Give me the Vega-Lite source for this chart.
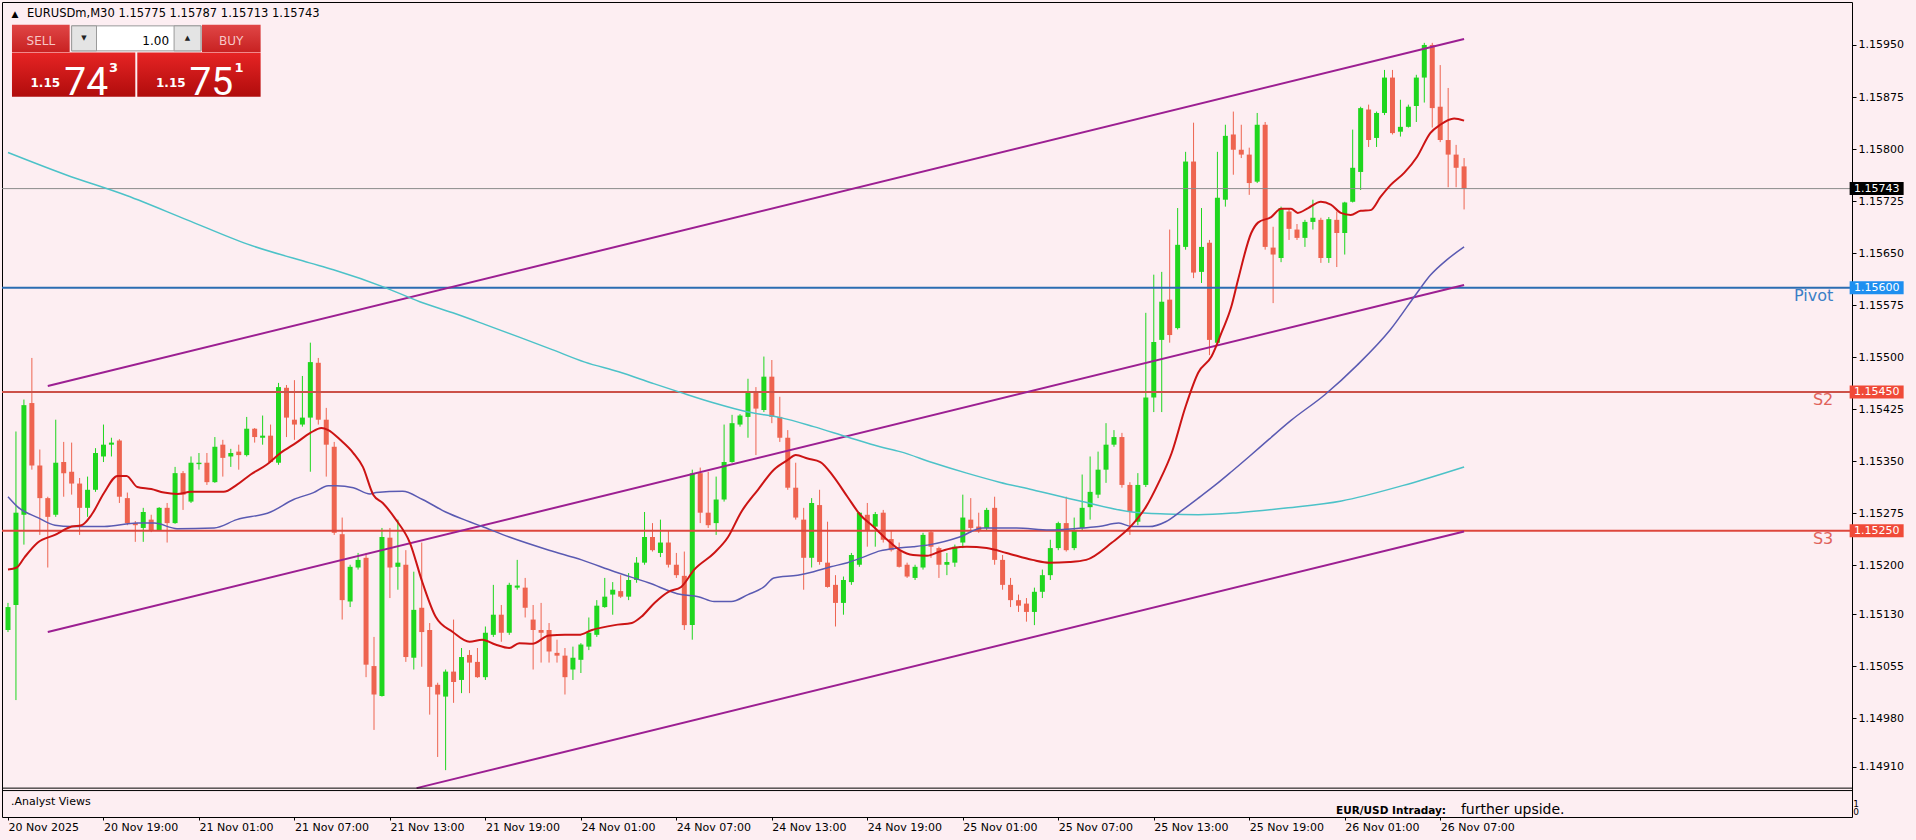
{
"$schema":"https://vega.github.io/schema/vega-lite/v6.json",
"width":1850,"height":815,
"autosize":{"type":"none"},
"padding":{"left":2,"top":2,"right":64,"bottom":23},
"background":"#fdeef2",
"config":{"view":{"stroke":"#000000","strokeWidth":1,"fill":"#fdeef2"},"axis":{"labelFont":"DejaVu Sans","labelFontSize":11,"labelColor":"#000000","tickColor":"#000000","domain":false,"grid":false},"text":{"font":"DejaVu Sans"}},
"resolve":{"scale":{"color":"independent"}},
"datasets":{
"candles":[
{"k":0,"o":1.15107,"h":1.15146,"l":1.15104,"c":1.1514},
{"k":1,"o":1.15143,"h":1.15393,"l":1.15006,"c":1.15276},
{"k":2,"o":1.15273,"h":1.15439,"l":1.1523,"c":1.15431},
{"k":3,"o":1.15434,"h":1.15499,"l":1.15338,"c":1.15344},
{"k":4,"o":1.15344,"h":1.15367,"l":1.15244,"c":1.15297},
{"k":5,"o":1.15297,"h":1.15299,"l":1.15197,"c":1.1527},
{"k":6,"o":1.15273,"h":1.1541,"l":1.1527,"c":1.15348},
{"k":7,"o":1.15349,"h":1.15378,"l":1.15299,"c":1.15333},
{"k":8,"o":1.15335,"h":1.15377,"l":1.15302,"c":1.15318},
{"k":9,"o":1.15318,"h":1.15326,"l":1.15244,"c":1.15283},
{"k":10,"o":1.15283,"h":1.15328,"l":1.1527,"c":1.15309},
{"k":11,"o":1.15309,"h":1.15369,"l":1.15306,"c":1.15362},
{"k":12,"o":1.15357,"h":1.15403,"l":1.15349,"c":1.15374},
{"k":13,"o":1.15374,"h":1.15384,"l":1.15357,"c":1.15377},
{"k":14,"o":1.1538,"h":1.15382,"l":1.1529,"c":1.15299},
{"k":15,"o":1.15297,"h":1.15305,"l":1.15258,"c":1.15261},
{"k":16,"o":1.15261,"h":1.15264,"l":1.15234,"c":1.15258},
{"k":17,"o":1.15254,"h":1.15283,"l":1.15234,"c":1.15277},
{"k":18,"o":1.15266,"h":1.15273,"l":1.15248,"c":1.15251},
{"k":19,"o":1.15251,"h":1.15284,"l":1.1525,"c":1.15283},
{"k":20,"o":1.15283,"h":1.1529,"l":1.15233,"c":1.15261},
{"k":21,"o":1.15261,"h":1.15342,"l":1.1526,"c":1.15333},
{"k":22,"o":1.15333,"h":1.15336,"l":1.1528,"c":1.15302},
{"k":23,"o":1.15292,"h":1.15357,"l":1.1529,"c":1.15348},
{"k":24,"o":1.15346,"h":1.15362,"l":1.15338,"c":1.15348},
{"k":25,"o":1.15348,"h":1.15362,"l":1.15316,"c":1.1532},
{"k":26,"o":1.1532,"h":1.15385,"l":1.15319,"c":1.15371},
{"k":27,"o":1.15374,"h":1.15381,"l":1.15328,"c":1.15355},
{"k":28,"o":1.15357,"h":1.15368,"l":1.15342,"c":1.15362},
{"k":29,"o":1.15364,"h":1.15374,"l":1.15338,"c":1.15359},
{"k":30,"o":1.15359,"h":1.15414,"l":1.15357,"c":1.15397},
{"k":31,"o":1.15397,"h":1.15398,"l":1.15377,"c":1.15385},
{"k":32,"o":1.15384,"h":1.15416,"l":1.15374,"c":1.15387},
{"k":33,"o":1.15387,"h":1.15403,"l":1.15348,"c":1.15349},
{"k":34,"o":1.15348,"h":1.15463,"l":1.15345,"c":1.15457},
{"k":35,"o":1.15456,"h":1.1546,"l":1.15385,"c":1.15413},
{"k":36,"o":1.1541,"h":1.15467,"l":1.15381,"c":1.15403},
{"k":37,"o":1.15403,"h":1.15473,"l":1.154,"c":1.15413},
{"k":38,"o":1.15413,"h":1.15521,"l":1.15335,"c":1.15493},
{"k":39,"o":1.15492,"h":1.15499,"l":1.15403,"c":1.1541},
{"k":40,"o":1.1541,"h":1.15427,"l":1.15328,"c":1.15374},
{"k":41,"o":1.15371,"h":1.15378,"l":1.15244,"c":1.15247},
{"k":42,"o":1.15245,"h":1.15269,"l":1.15122,"c":1.1515},
{"k":43,"o":1.15148,"h":1.15201,"l":1.1514,"c":1.15198},
{"k":44,"o":1.15197,"h":1.15218,"l":1.15194,"c":1.15208},
{"k":45,"o":1.15211,"h":1.15218,"l":1.15039,"c":1.15057},
{"k":46,"o":1.15055,"h":1.15097,"l":1.14963,"c":1.15014},
{"k":47,"o":1.15012,"h":1.15254,"l":1.15011,"c":1.15241},
{"k":48,"o":1.1524,"h":1.15254,"l":1.15153,"c":1.15197},
{"k":49,"o":1.15198,"h":1.15266,"l":1.15165,"c":1.15204},
{"k":50,"o":1.15201,"h":1.15222,"l":1.15061,"c":1.15068},
{"k":51,"o":1.15067,"h":1.15191,"l":1.1505,"c":1.15136},
{"k":52,"o":1.15139,"h":1.15233,"l":1.15054,"c":1.15104},
{"k":53,"o":1.15107,"h":1.15117,"l":1.14985,"c":1.15025},
{"k":54,"o":1.15028,"h":1.15031,"l":1.14924,"c":1.15014},
{"k":55,"o":1.15011,"h":1.1505,"l":1.14905,"c":1.15047},
{"k":56,"o":1.15047,"h":1.15122,"l":1.15002,"c":1.15032},
{"k":57,"o":1.15035,"h":1.15081,"l":1.15016,"c":1.15068},
{"k":58,"o":1.15071,"h":1.15078,"l":1.15016,"c":1.1506},
{"k":59,"o":1.15061,"h":1.15081,"l":1.15038,"c":1.15039},
{"k":60,"o":1.15039,"h":1.15112,"l":1.15035,"c":1.15103},
{"k":61,"o":1.151,"h":1.15172,"l":1.15097,"c":1.15129},
{"k":62,"o":1.15129,"h":1.15143,"l":1.1509,"c":1.15103},
{"k":63,"o":1.15103,"h":1.15175,"l":1.151,"c":1.15172},
{"k":64,"o":1.15168,"h":1.15208,"l":1.15165,"c":1.15171},
{"k":65,"o":1.15168,"h":1.15182,"l":1.15125,"c":1.15139},
{"k":66,"o":1.15122,"h":1.15143,"l":1.1505,"c":1.15107},
{"k":67,"o":1.15107,"h":1.15146,"l":1.1506,"c":1.15103},
{"k":68,"o":1.15107,"h":1.15117,"l":1.1506,"c":1.15076},
{"k":69,"o":1.15074,"h":1.15093,"l":1.1506,"c":1.1507},
{"k":70,"o":1.1507,"h":1.15081,"l":1.15014,"c":1.15039},
{"k":71,"o":1.1505,"h":1.15083,"l":1.15035,"c":1.15067},
{"k":72,"o":1.15064,"h":1.15088,"l":1.15045,"c":1.15086},
{"k":73,"o":1.15083,"h":1.15125,"l":1.15078,"c":1.15103},
{"k":74,"o":1.151,"h":1.1515,"l":1.15097,"c":1.15142},
{"k":75,"o":1.1514,"h":1.15182,"l":1.15139,"c":1.15155},
{"k":76,"o":1.15158,"h":1.15176,"l":1.15129,"c":1.15165},
{"k":77,"o":1.15163,"h":1.15186,"l":1.15153,"c":1.15155},
{"k":78,"o":1.15155,"h":1.15189,"l":1.1515,"c":1.15179},
{"k":79,"o":1.15179,"h":1.15212,"l":1.15175,"c":1.15204},
{"k":80,"o":1.15204,"h":1.15277,"l":1.15201,"c":1.15241},
{"k":81,"o":1.15241,"h":1.15261,"l":1.1522,"c":1.15222},
{"k":82,"o":1.15218,"h":1.15266,"l":1.15212,"c":1.15233},
{"k":83,"o":1.15233,"h":1.15251,"l":1.15197,"c":1.15201},
{"k":84,"o":1.15201,"h":1.15218,"l":1.15182,"c":1.15186},
{"k":85,"o":1.15185,"h":1.1522,"l":1.15107,"c":1.15114},
{"k":86,"o":1.15114,"h":1.15338,"l":1.15093,"c":1.15333},
{"k":87,"o":1.15333,"h":1.15341,"l":1.15261,"c":1.15276},
{"k":88,"o":1.15276,"h":1.15335,"l":1.15254,"c":1.15258},
{"k":89,"o":1.15261,"h":1.15328,"l":1.15244,"c":1.15295},
{"k":90,"o":1.15295,"h":1.15403,"l":1.15292,"c":1.15349},
{"k":91,"o":1.15349,"h":1.15417,"l":1.15348,"c":1.15405},
{"k":92,"o":1.15403,"h":1.15418,"l":1.154,"c":1.15416},
{"k":93,"o":1.15414,"h":1.15469,"l":1.15384,"c":1.1545},
{"k":94,"o":1.1545,"h":1.15457,"l":1.15359,"c":1.15426},
{"k":95,"o":1.15424,"h":1.15501,"l":1.15421,"c":1.15472},
{"k":96,"o":1.15472,"h":1.15496,"l":1.15405,"c":1.15414},
{"k":97,"o":1.15414,"h":1.15443,"l":1.15378,"c":1.15384},
{"k":98,"o":1.15384,"h":1.15395,"l":1.15309,"c":1.15312},
{"k":99,"o":1.15312,"h":1.15348,"l":1.15266,"c":1.15269},
{"k":100,"o":1.15266,"h":1.15283,"l":1.15165,"c":1.15211},
{"k":101,"o":1.15211,"h":1.15297,"l":1.15197,"c":1.1529},
{"k":102,"o":1.15287,"h":1.15309,"l":1.15201,"c":1.15205},
{"k":103,"o":1.15204,"h":1.15263,"l":1.15168,"c":1.15169},
{"k":104,"o":1.15172,"h":1.15186,"l":1.15112,"c":1.15146},
{"k":105,"o":1.15146,"h":1.15184,"l":1.15129,"c":1.15179},
{"k":106,"o":1.15176,"h":1.15218,"l":1.15172,"c":1.15215},
{"k":107,"o":1.15201,"h":1.15277,"l":1.15198,"c":1.15276},
{"k":108,"o":1.15273,"h":1.1529,"l":1.15227,"c":1.15251},
{"k":109,"o":1.15256,"h":1.15277,"l":1.15227,"c":1.15274},
{"k":110,"o":1.15276,"h":1.1528,"l":1.15233,"c":1.15237},
{"k":111,"o":1.15238,"h":1.15251,"l":1.1522,"c":1.15222},
{"k":112,"o":1.15222,"h":1.15233,"l":1.15197,"c":1.15198},
{"k":113,"o":1.15201,"h":1.15204,"l":1.15182,"c":1.15184},
{"k":114,"o":1.15182,"h":1.15201,"l":1.15179,"c":1.15198},
{"k":115,"o":1.15197,"h":1.15247,"l":1.15194,"c":1.15244},
{"k":116,"o":1.15248,"h":1.15251,"l":1.15211,"c":1.15227},
{"k":117,"o":1.15225,"h":1.15227,"l":1.15182,"c":1.15201},
{"k":118,"o":1.15201,"h":1.15218,"l":1.15186,"c":1.15205},
{"k":119,"o":1.15204,"h":1.1523,"l":1.15198,"c":1.15227},
{"k":120,"o":1.15233,"h":1.15302,"l":1.15225,"c":1.15269},
{"k":121,"o":1.15266,"h":1.15297,"l":1.15247,"c":1.15254},
{"k":122,"o":1.15256,"h":1.15276,"l":1.15247,"c":1.15251},
{"k":123,"o":1.15254,"h":1.15283,"l":1.15251,"c":1.1528},
{"k":124,"o":1.15283,"h":1.15299,"l":1.15201,"c":1.15208},
{"k":125,"o":1.15208,"h":1.15215,"l":1.15165,"c":1.15172},
{"k":126,"o":1.15172,"h":1.15182,"l":1.1514,"c":1.1515},
{"k":127,"o":1.1515,"h":1.15158,"l":1.15133,"c":1.15142},
{"k":128,"o":1.15145,"h":1.15153,"l":1.15119,"c":1.15133},
{"k":129,"o":1.15133,"h":1.15168,"l":1.15114,"c":1.15162},
{"k":130,"o":1.15162,"h":1.15194,"l":1.15153,"c":1.15186},
{"k":131,"o":1.15186,"h":1.15237,"l":1.15179,"c":1.15225},
{"k":132,"o":1.15225,"h":1.15263,"l":1.15222,"c":1.15261},
{"k":133,"o":1.15261,"h":1.15299,"l":1.1522,"c":1.15222},
{"k":134,"o":1.15225,"h":1.15269,"l":1.15222,"c":1.15251},
{"k":135,"o":1.15254,"h":1.15331,"l":1.15251,"c":1.15283},
{"k":136,"o":1.15284,"h":1.15357,"l":1.15266,"c":1.15306},
{"k":137,"o":1.15302,"h":1.15364,"l":1.15297,"c":1.15338},
{"k":138,"o":1.15338,"h":1.15405,"l":1.15319,"c":1.15374},
{"k":139,"o":1.15374,"h":1.15395,"l":1.15371,"c":1.15385},
{"k":140,"o":1.15385,"h":1.15391,"l":1.15312,"c":1.15316},
{"k":141,"o":1.15316,"h":1.1532,"l":1.15244,"c":1.15277},
{"k":142,"o":1.15263,"h":1.15333,"l":1.15258,"c":1.15316},
{"k":143,"o":1.15316,"h":1.15564,"l":1.15313,"c":1.15442},
{"k":144,"o":1.15442,"h":1.15619,"l":1.15421,"c":1.15522},
{"k":145,"o":1.15525,"h":1.15623,"l":1.15421,"c":1.1558},
{"k":146,"o":1.15583,"h":1.15684,"l":1.15521,"c":1.15532},
{"k":147,"o":1.15542,"h":1.15715,"l":1.1554,"c":1.15662},
{"k":148,"o":1.15659,"h":1.15796,"l":1.15655,"c":1.15782},
{"k":149,"o":1.15782,"h":1.15838,"l":1.15614,"c":1.15622},
{"k":150,"o":1.15623,"h":1.15715,"l":1.15607,"c":1.15659},
{"k":151,"o":1.15665,"h":1.15669,"l":1.15503,"c":1.15525},
{"k":152,"o":1.15521,"h":1.15796,"l":1.15518,"c":1.1573},
{"k":153,"o":1.15727,"h":1.15835,"l":1.15717,"c":1.15819},
{"k":154,"o":1.15821,"h":1.15854,"l":1.15763,"c":1.15799},
{"k":155,"o":1.15799,"h":1.15835,"l":1.15787,"c":1.15792},
{"k":156,"o":1.15792,"h":1.15802,"l":1.15734,"c":1.15751},
{"k":157,"o":1.15753,"h":1.15852,"l":1.15751,"c":1.15835},
{"k":158,"o":1.15835,"h":1.15839,"l":1.15655,"c":1.15659},
{"k":159,"o":1.15658,"h":1.15688,"l":1.15578,"c":1.15648},
{"k":160,"o":1.15643,"h":1.15717,"l":1.15637,"c":1.15715},
{"k":161,"o":1.1571,"h":1.15715,"l":1.15669,"c":1.15685},
{"k":162,"o":1.15684,"h":1.15692,"l":1.15669,"c":1.15672},
{"k":163,"o":1.15672,"h":1.15698,"l":1.15659,"c":1.15695},
{"k":164,"o":1.15695,"h":1.15727,"l":1.15684,"c":1.15701},
{"k":165,"o":1.15698,"h":1.15701,"l":1.15636,"c":1.15643},
{"k":166,"o":1.15643,"h":1.15702,"l":1.15636,"c":1.15699},
{"k":167,"o":1.15698,"h":1.1571,"l":1.1563,"c":1.15679},
{"k":168,"o":1.15679,"h":1.15724,"l":1.15648,"c":1.15723},
{"k":169,"o":1.15724,"h":1.15828,"l":1.15723,"c":1.15773},
{"k":170,"o":1.15767,"h":1.15861,"l":1.15741,"c":1.15859},
{"k":171,"o":1.15857,"h":1.15864,"l":1.15803,"c":1.15813},
{"k":172,"o":1.15816,"h":1.15854,"l":1.15803,"c":1.15852},
{"k":173,"o":1.15852,"h":1.15914,"l":1.15849,"c":1.15903},
{"k":174,"o":1.15903,"h":1.15914,"l":1.15821,"c":1.15823},
{"k":175,"o":1.15825,"h":1.15871,"l":1.15818,"c":1.15832},
{"k":176,"o":1.15832,"h":1.15864,"l":1.15831,"c":1.15861},
{"k":177,"o":1.15862,"h":1.15907,"l":1.15839,"c":1.15903},
{"k":178,"o":1.15903,"h":1.15953,"l":1.15867,"c":1.1595},
{"k":179,"o":1.1595,"h":1.15953,"l":1.15831,"c":1.15859},
{"k":180,"o":1.15861,"h":1.15921,"l":1.1581,"c":1.15813},
{"k":181,"o":1.15813,"h":1.15888,"l":1.15745,"c":1.15792},
{"k":182,"o":1.15792,"h":1.15806,"l":1.15745,"c":1.15773},
{"k":183,"o":1.15775,"h":1.15787,"l":1.15713,"c":1.15743}
],
"fast":[
{"k":0,"v":1.15194},{"k":1.1,"v":1.15197},{"k":2.1,"v":1.15212},{"k":3.75,"v":1.15233},{"k":5.9,"v":1.15244},{"k":8,"v":1.15256},{"k":9.25,"v":1.15258},{"k":10.5,"v":1.15273},{"k":12.1,"v":1.15305},{"k":13.75,"v":1.15329},{"k":14.9,"v":1.15329},{"k":16.25,"v":1.15313},{"k":18,"v":1.1531},{"k":19.6,"v":1.15305},{"k":21.25,"v":1.15303},{"k":23,"v":1.15306},{"k":25.5,"v":1.15306},{"k":27.1,"v":1.15306},{"k":28.75,"v":1.15316},{"k":30.5,"v":1.15331},{"k":32.5,"v":1.15345},{"k":34.25,"v":1.15362},{"k":36.25,"v":1.15377},{"k":38,"v":1.15391},{"k":39.4,"v":1.15398},{"k":40.25,"v":1.15395},{"k":41.75,"v":1.15381},{"k":43.4,"v":1.15362},{"k":44.6,"v":1.15342},{"k":45.9,"v":1.15302},{"k":47.1,"v":1.1529},{"k":48.75,"v":1.15266},{"k":50.5,"v":1.15233},{"k":52.1,"v":1.15175},{"k":53.75,"v":1.15126},{"k":55.9,"v":1.15104},{"k":58,"v":1.1509},{"k":59.6,"v":1.15093},{"k":61.25,"v":1.15086},{"k":63,"v":1.15081},{"k":64.25,"v":1.15088},{"k":65.9,"v":1.15087},{"k":68,"v":1.15099},{"k":70,"v":1.151},{"k":71.75,"v":1.151},{"k":73.4,"v":1.15107},{"k":76.25,"v":1.15114},{"k":78.4,"v":1.15117},{"k":79.6,"v":1.15126},{"k":81.25,"v":1.15146},{"k":83,"v":1.15162},{"k":84.6,"v":1.15169},{"k":86.25,"v":1.15194},{"k":88.75,"v":1.15218},{"k":90.5,"v":1.15241},{"k":92.1,"v":1.15276},{"k":94.25,"v":1.15309},{"k":96.25,"v":1.15338},{"k":98,"v":1.15352},{"k":99,"v":1.15359},{"k":100.5,"v":1.15354},{"k":102.1,"v":1.15349},{"k":103.75,"v":1.15328},{"k":105.5,"v":1.15299},{"k":107.1,"v":1.15273},{"k":108.75,"v":1.15256},{"k":110.5,"v":1.15237},{"k":112.1,"v":1.15222},{"k":113.75,"v":1.15215},{"k":115.5,"v":1.15214},{"k":117.1,"v":1.1522},{"k":118.75,"v":1.15225},{"k":120.5,"v":1.15227},{"k":123,"v":1.15225},{"k":125.5,"v":1.15218},{"k":128.75,"v":1.15208},{"k":130.9,"v":1.15204},{"k":133.4,"v":1.15205},{"k":135.5,"v":1.15208},{"k":138.75,"v":1.15233},{"k":141.25,"v":1.15258},{"k":143,"v":1.15284},{"k":144.6,"v":1.15319},{"k":146.25,"v":1.15362},{"k":148,"v":1.15429},{"k":149.6,"v":1.15478},{"k":151.25,"v":1.15501},{"k":152.5,"v":1.15535},{"k":153.75,"v":1.15573},{"k":154.6,"v":1.15612},{"k":156.25,"v":1.15679},{"k":157.1,"v":1.15694},{"k":158.75,"v":1.15702},{"k":160,"v":1.15714},{"k":161.25,"v":1.15714},{"k":162.1,"v":1.15708},{"k":163.4,"v":1.15715},{"k":165,"v":1.15724},{"k":166.25,"v":1.1572},{"k":167.5,"v":1.15708},{"k":168.75,"v":1.15705},{"k":170,"v":1.15711},{"k":171.25,"v":1.15712},{"k":172.5,"v":1.15731},{"k":173.75,"v":1.15748},{"k":175.5,"v":1.15766},{"k":177.1,"v":1.15789},{"k":178.75,"v":1.15823},{"k":180,"v":1.15835},{"k":181.75,"v":1.15844},{"k":183,"v":1.15841}
],
"mid":[
{"k":0,"v":1.15299},{"k":1.25,"v":1.15284},{"k":3.75,"v":1.15269},{"k":5.9,"v":1.15258},{"k":8,"v":1.15256},{"k":12.1,"v":1.15256},{"k":16.25,"v":1.15261},{"k":18.4,"v":1.15261},{"k":21.25,"v":1.15253},{"k":25.9,"v":1.15254},{"k":28.75,"v":1.15266},{"k":33,"v":1.15277},{"k":35.9,"v":1.15295},{"k":38.4,"v":1.15305},{"k":40.25,"v":1.15315},{"k":41.25,"v":1.15315},{"k":43.4,"v":1.15312},{"k":45.5,"v":1.15303},{"k":46.25,"v":1.15305},{"k":49.6,"v":1.15307},{"k":52.1,"v":1.15295},{"k":55,"v":1.15277},{"k":58,"v":1.15263},{"k":59.6,"v":1.15256},{"k":63,"v":1.15241},{"k":68,"v":1.15222},{"k":72.1,"v":1.15208},{"k":76.25,"v":1.15191},{"k":80.5,"v":1.15175},{"k":84.6,"v":1.15158},{"k":86.75,"v":1.15155},{"k":88.75,"v":1.15148},{"k":90.9,"v":1.15148},{"k":93,"v":1.15158},{"k":95,"v":1.15169},{"k":96.25,"v":1.15182},{"k":99.25,"v":1.15186},{"k":101.25,"v":1.15191},{"k":103.4,"v":1.15198},{"k":105.5,"v":1.15204},{"k":107.5,"v":1.15212},{"k":109.6,"v":1.15221},{"k":111.75,"v":1.15225},{"k":113.75,"v":1.15227},{"k":115.9,"v":1.1523},{"k":119.6,"v":1.15241},{"k":122.5,"v":1.15254},{"k":126.75,"v":1.15254},{"k":130.9,"v":1.15251},{"k":135,"v":1.15254},{"k":137.1,"v":1.15256},{"k":139.6,"v":1.15261},{"k":141.25,"v":1.15256},{"k":143.4,"v":1.15256},{"k":145.5,"v":1.15263},{"k":147.5,"v":1.15279},{"k":149.6,"v":1.15297},{"k":151.75,"v":1.15316},{"k":153.75,"v":1.15335},{"k":156,"v":1.15357},{"k":158.5,"v":1.15382},{"k":161.25,"v":1.15409},{"k":165.5,"v":1.15446},{"k":169.6,"v":1.15489},{"k":173.75,"v":1.1554},{"k":177.1,"v":1.15593},{"k":178.75,"v":1.15618},{"k":180.9,"v":1.15641},{"k":183,"v":1.15659}
],
"slow":[
{"k":0,"v":1.15795},{"k":7.25,"v":1.15763},{"k":14.9,"v":1.15733},{"k":22.5,"v":1.15698},{"k":30.1,"v":1.15663},{"k":37.9,"v":1.15636},{"k":40.9,"v":1.15626},{"k":47.5,"v":1.156},{"k":51.75,"v":1.1558},{"k":55.9,"v":1.15564},{"k":60,"v":1.15547},{"k":64.25,"v":1.15529},{"k":68.4,"v":1.15511},{"k":72.5,"v":1.15493},{"k":76.75,"v":1.15479},{"k":80.9,"v":1.15463},{"k":84.6,"v":1.15449},{"k":88.75,"v":1.15434},{"k":93,"v":1.15421},{"k":97.1,"v":1.15413},{"k":101.25,"v":1.154},{"k":105.5,"v":1.15385},{"k":109.6,"v":1.15371},{"k":112.1,"v":1.15364},{"k":116.25,"v":1.15348},{"k":120.5,"v":1.15333},{"k":124.6,"v":1.1532},{"k":128.75,"v":1.15309},{"k":135,"v":1.15292},{"k":141.25,"v":1.15277},{"k":145.5,"v":1.15274},{"k":149.6,"v":1.15273},{"k":154.6,"v":1.15276},{"k":160.9,"v":1.15283},{"k":167.6,"v":1.15293},{"k":175.25,"v":1.15315},{"k":183,"v":1.15342}
],
"channel":[
{"line":"upper","k":5,"v":1.154586},{"line":"upper","k":183,"v":1.159586},
{"line":"middle","k":5,"v":1.151041},{"line":"middle","k":183,"v":1.156041},
{"line":"lower","k":51.35,"v":1.148791},{"line":"lower","k":183,"v":1.152489}
],
"levels":[
{"kind":"price","name":"","v":1.15743,"label":"1.15743"},
{"kind":"pivot","name":"Pivot","v":1.156,"label":"1.15600"},
{"kind":"s2","name":"S2","v":1.1545,"label":"1.15450"},
{"kind":"s3","name":"S3","v":1.1525,"label":"1.15250"}
]
},
"layer":[
{"data":{"name":"candles"},"mark":{"type":"rule","strokeWidth":1},
 "encoding":{
  "x":{"field":"k","type":"quantitative","scale":{"domain":[-0.125,231.125],"nice":false,"zero":false},
   "axis":{"title":null,"values":[0,12,24,36,48,60,72,84,96,108,120,132,144,156,168,180],
    "labelExpr":"['20 Nov 2025','20 Nov 19:00','21 Nov 01:00','21 Nov 07:00','21 Nov 13:00','21 Nov 19:00','24 Nov 01:00','24 Nov 07:00','24 Nov 13:00','24 Nov 19:00','25 Nov 01:00','25 Nov 07:00','25 Nov 13:00','25 Nov 19:00','26 Nov 01:00','26 Nov 07:00'][round(datum.value/12)]",
    "labelAlign":"left","labelFlush":false,"labelOverlap":false,"labelBound":false,"tickSize":3,"labelPadding":1}},
  "y":{"field":"l","type":"quantitative","scale":{"domain":[1.148375,1.160119],"nice":false,"zero":false},
   "axis":{"title":null,"orient":"right","values":[1.1595,1.15875,1.158,1.15725,1.1565,1.15575,1.155,1.15425,1.1535,1.15275,1.152,1.1513,1.15055,1.1498,1.1491],
    "format":".5f","tickSize":4,"labelPadding":2,"labelFlush":false,"labelOverlap":false,"labelBound":false}},
  "y2":{"field":"h"},
  "color":{"condition":{"test":"datum.c >= datum.o","value":"#1fd61f"},"value":"#ee6450"}}},
{"data":{"name":"candles"},"mark":{"type":"bar","width":5},
 "encoding":{
  "x":{"field":"k","type":"quantitative","title":null},
  "y":{"field":"o","type":"quantitative","title":null},
  "y2":{"field":"c"},
  "color":{"condition":{"test":"datum.c >= datum.o","value":"#1fd61f"},"value":"#ee6450"}}},
{"data":{"name":"levels"},"transform":[{"filter":"datum.kind == 'price'"}],"mark":{"type":"rule","color":"#8c8c8c","strokeWidth":1},
 "encoding":{"y":{"field":"v","type":"quantitative","title":null}}},
{"data":{"name":"levels"},"transform":[{"filter":"datum.kind != 'price'"}],"mark":{"type":"rule","strokeWidth":2},
 "encoding":{"y":{"field":"v","type":"quantitative","title":null},
  "color":{"field":"kind","type":"nominal","scale":{"domain":["pivot","s2","s3"],"range":["#2b6db2","#cc5149","#dd463c"]},"legend":null}}},
{"data":{"name":"channel"},"mark":{"type":"line","color":"#9c1f92","strokeWidth":2,"clip":true},
 "encoding":{"x":{"field":"k","type":"quantitative","title":null},"y":{"field":"v","type":"quantitative","title":null},"detail":{"field":"line"}}},
{"data":{"name":"slow"},"mark":{"type":"line","color":"#4cc2c8","strokeWidth":1.5,"interpolate":"monotone","clip":true},
 "encoding":{"x":{"field":"k","type":"quantitative","title":null},"y":{"field":"v","type":"quantitative","title":null}}},
{"data":{"name":"mid"},"mark":{"type":"line","color":"#5a5ab2","strokeWidth":1.5,"interpolate":"monotone","clip":true},
 "encoding":{"x":{"field":"k","type":"quantitative","title":null},"y":{"field":"v","type":"quantitative","title":null}}},
{"data":{"name":"fast"},"mark":{"type":"line","color":"#cc1414","strokeWidth":2,"interpolate":"monotone","clip":true},
 "encoding":{"x":{"field":"k","type":"quantitative","title":null},"y":{"field":"v","type":"quantitative","title":null}}},
{"data":{"name":"levels"},"transform":[{"filter":"datum.kind != 'price'"}],"mark":{"type":"text","align":"right","baseline":"alphabetic","dy":13,"fontSize":16},
 "encoding":{"x":{"datum":229.4},"y":{"field":"v","type":"quantitative","title":null},"text":{"field":"name"},
  "color":{"field":"kind","type":"nominal","scale":{"domain":["pivot","s2","s3"],"range":["#3b7fc6","#e0625a","#e0625a"]},"legend":null}}},
{"data":{"name":"levels"},"mark":{"type":"tick","orient":"horizontal","size":54,"thickness":13,"opacity":1},
 "encoding":{"x":{"datum":234.85},"y":{"field":"v","type":"quantitative","title":null},
  "color":{"field":"kind","type":"nominal","scale":{"domain":["price","pivot","s2","s3"],"range":["#000000","#1e8ff0","#f04a38","#f04a38"]},"legend":null}}},
{"data":{"name":"levels"},"mark":{"type":"text","align":"left","baseline":"middle","fontSize":11,"color":"#ffffff"},
 "encoding":{"x":{"datum":232},"y":{"field":"v","type":"quantitative","title":null},"text":{"field":"label"}}},
{"data":{"values":[{}]},"mark":{"type":"rule","color":"#000000","strokeWidth":1},"encoding":{"y":{"datum":1.148791}}},
{"data":{"values":[{}]},"mark":{"type":"rule","color":"#000000","strokeWidth":1},"encoding":{"y":{"datum":1.148756}}},
{"data":{"values":[{"t":".Analyst Views"}]},"mark":{"type":"text","align":"left","baseline":"alphabetic","fontSize":11,"color":"#000000"},
 "encoding":{"x":{"datum":0.375},"y":{"datum":1.14855},"text":{"field":"t"}}},
{"data":{"values":[{"t":"EUR/USD Intraday:"}]},"mark":{"type":"text","align":"left","baseline":"alphabetic","fontSize":10.5,"fontWeight":"bold","color":"#000000"},
 "encoding":{"x":{"datum":166.9},"y":{"datum":1.14842},"text":{"field":"t"}}},
{"data":{"values":[{"t":"further upside."}]},"mark":{"type":"text","align":"left","baseline":"alphabetic","fontSize":14,"color":"#000000"},
 "encoding":{"x":{"datum":182.6},"y":{"datum":1.14842},"text":{"field":"t"}}},
{"data":{"values":[{"t":"1"}]},"mark":{"type":"text","align":"left","baseline":"alphabetic","fontSize":9,"color":"#000000"},
 "encoding":{"x":{"datum":231.9},"y":{"datum":1.14852},"text":{"field":"t"}}},
{"data":{"values":[{"t":"0"}]},"mark":{"type":"text","align":"left","baseline":"alphabetic","fontSize":9,"color":"#000000"},
 "encoding":{"x":{"datum":231.9},"y":{"datum":1.14841},"text":{"field":"t"}}},
{"data":{"values":[{"t":"▲"}]},"mark":{"type":"text","align":"left","baseline":"alphabetic","fontSize":9,"color":"#000000"},
 "encoding":{"x":{"datum":0.45},"y":{"datum":1.1599},"text":{"field":"t"}}},
{"data":{"values":[{"t":"EURUSDm,M30  1.15775 1.15787 1.15713 1.15743"}]},"mark":{"type":"text","align":"left","baseline":"alphabetic","fontSize":11.5,"color":"#000000"},
 "encoding":{"x":{"datum":2.4},"y":{"datum":1.1599},"text":{"field":"t"}}},
{"data":{"values":[{"part":"sell"}]},"mark":{"type":"rect","color":{"gradient":"linear","x1":0,"y1":0,"x2":0,"y2":1,"stops":[{"offset":0,"color":"#e04646"},{"offset":1,"color":"#c82222"}]}},
 "encoding":{"x":{"datum":0.5},"x2":{"datum":7.75},"y":{"datum":1.15979},"y2":{"datum":1.1594}}},
{"data":{"values":[{"part":"buy"}]},"mark":{"type":"rect","color":{"gradient":"linear","x1":0,"y1":0,"x2":0,"y2":1,"stops":[{"offset":0,"color":"#e04646"},{"offset":1,"color":"#c82222"}]}},
 "encoding":{"x":{"datum":24.375},"x2":{"datum":31.75},"y":{"datum":1.15979},"y2":{"datum":1.1594}}},
{"data":{"values":[{"part":"lots"}]},"mark":{"type":"rect","fill":"#ffffff","stroke":"#9a9a9a","strokeWidth":1},
 "encoding":{"x":{"datum":8},"x2":{"datum":24.25},"y":{"datum":1.159775},"y2":{"datum":1.159415}}},
{"data":{"values":[{"part":"minus"}]},"mark":{"type":"rect","fill":"#e4e4e4","stroke":"#9a9a9a","strokeWidth":1},
 "encoding":{"x":{"datum":8},"x2":{"datum":11.125},"y":{"datum":1.159775},"y2":{"datum":1.159415}}},
{"data":{"values":[{"part":"plus"}]},"mark":{"type":"rect","fill":"#e4e4e4","stroke":"#9a9a9a","strokeWidth":1},
 "encoding":{"x":{"datum":20.875},"x2":{"datum":24.25},"y":{"datum":1.159775},"y2":{"datum":1.159415}}},
{"data":{"values":[{"part":"bid"}]},"mark":{"type":"rect","color":{"gradient":"linear","x1":0,"y1":0,"x2":0,"y2":1,"stops":[{"offset":0,"color":"#e62424"},{"offset":1,"color":"#b00c0c"}]}},
 "encoding":{"x":{"datum":0.5},"x2":{"datum":16},"y":{"datum":1.15939},"y2":{"datum":1.158752}}},
{"data":{"values":[{"part":"ask"}]},"mark":{"type":"rect","color":{"gradient":"linear","x1":0,"y1":0,"x2":0,"y2":1,"stops":[{"offset":0,"color":"#e62424"},{"offset":1,"color":"#b00c0c"}]}},
 "encoding":{"x":{"datum":16.25},"x2":{"datum":31.75},"y":{"datum":1.15939},"y2":{"datum":1.158752}}},
{"data":{"values":[{"t":"SELL"}]},"mark":{"type":"text","align":"center","baseline":"alphabetic","fontSize":12,"color":"#f7c6c6"},
 "encoding":{"x":{"datum":4.125},"y":{"datum":1.1595},"text":{"field":"t"}}},
{"data":{"values":[{"t":"BUY"}]},"mark":{"type":"text","align":"center","baseline":"alphabetic","fontSize":12,"color":"#f7c6c6"},
 "encoding":{"x":{"datum":28.06},"y":{"datum":1.1595},"text":{"field":"t"}}},
{"data":{"values":[{"t":"1.00"}]},"mark":{"type":"text","align":"center","baseline":"alphabetic","fontSize":12,"color":"#000000"},
 "encoding":{"x":{"datum":18.56},"y":{"datum":1.1595},"text":{"field":"t"}}},
{"data":{"values":[{"t":"▼"}]},"mark":{"type":"text","align":"center","baseline":"middle","fontSize":7,"color":"#222222"},
 "encoding":{"x":{"datum":9.56},"y":{"datum":1.159603},"text":{"field":"t"}}},
{"data":{"values":[{"t":"▲"}]},"mark":{"type":"text","align":"center","baseline":"middle","fontSize":7,"color":"#222222"},
 "encoding":{"x":{"datum":22.56},"y":{"datum":1.159603},"text":{"field":"t"}}},
{"data":{"values":[{"t":"1.15"}]},"mark":{"type":"text","align":"center","baseline":"alphabetic","fontSize":12,"fontWeight":"bold","color":"#ffffff"},
 "encoding":{"x":{"datum":4.69},"y":{"datum":1.15889},"text":{"field":"t"}}},
{"data":{"values":[{"t":"1.15"}]},"mark":{"type":"text","align":"center","baseline":"alphabetic","fontSize":12,"fontWeight":"bold","color":"#ffffff"},
 "encoding":{"x":{"datum":20.46},"y":{"datum":1.15889},"text":{"field":"t"}}},
{"data":{"values":[{"t":"74"}]},"mark":{"type":"text","align":"center","baseline":"alphabetic","fontSize":39,"font":"Liberation Sans Narrow, Roboto","color":"#ffffff"},
 "encoding":{"x":{"datum":9.83},"y":{"datum":1.158779},"text":{"field":"t"}}},
{"data":{"values":[{"t":"75"}]},"mark":{"type":"text","align":"center","baseline":"alphabetic","fontSize":39,"font":"Liberation Sans Narrow, Roboto","color":"#ffffff"},
 "encoding":{"x":{"datum":25.56},"y":{"datum":1.158779},"text":{"field":"t"}}},
{"data":{"values":[{"t":"3"}]},"mark":{"type":"text","align":"center","baseline":"alphabetic","fontSize":13,"fontWeight":"bold","color":"#ffffff"},
 "encoding":{"x":{"datum":13.25},"y":{"datum":1.159115},"text":{"field":"t"}}},
{"data":{"values":[{"t":"1"}]},"mark":{"type":"text","align":"center","baseline":"alphabetic","fontSize":13,"fontWeight":"bold","color":"#ffffff"},
 "encoding":{"x":{"datum":29.04},"y":{"datum":1.159115},"text":{"field":"t"}}}
]
}
